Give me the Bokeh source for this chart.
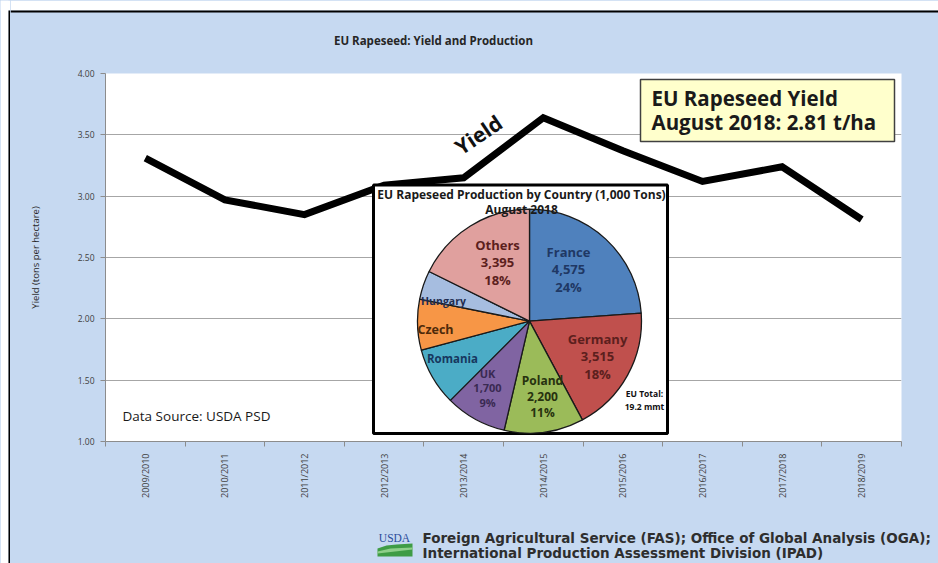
import math
from bokeh.plotting import figure
from bokeh.layouts import row, column
from bokeh.models import Range1d, FixedTicker, Label, NumeralTickFormatter
from bokeh.embed import file_html
from bokeh.resources import INLINE

# ---------------- data ----------------
seasons = ["2009/2010", "2010/2011", "2011/2012", "2012/2013", "2013/2014",
           "2014/2015", "2015/2016", "2016/2017", "2017/2018", "2018/2019"]
yields = [3.31, 2.97, 2.85, 3.09, 3.15, 3.64, 3.37, 3.12, 3.24, 2.81]
y_ticks = [1.0, 1.5, 2.0, 2.5, 3.0, 3.5, 4.0]

countries = ["France", "Germany", "Poland", "UK", "Romania", "Czech", "Hungary", "Others"]
production = [4575, 3515, 2200, 1700, 1600, 1400, 800, 3395]
slice_colors = ["#4f81bd", "#c0504d", "#9bbb59", "#8064a2", "#4bacc6", "#f79646", "#a6bde0", "#e0a09e"]
label_colors = ["#1f3864", "#5c1f1d", "#27320f", "#3a2a52", "#17375e", "#4e2a0a", "#1f2d50", "#5c1f1d"]

# ---------------- layout (page coordinates) ----------------
PW, PH = 938, 563
SW = 10                 # left strip width
HH = 60                 # header height
MB = 500                # main figure bottom (page y)
FL, FR, FT, FB = 105, 901, 73, 446  # plot frame in page coords
FONT = "Open Sans"
BLUE = "#c6d9f1"


def bare(width, height, x0, x1, y0, y1):
    # page coordinates: y measured downward -> stored as negative values
    f = figure(width=width, height=height, output_backend="svg", toolbar_location=None,
               title=None, x_range=Range1d(x0, x1), y_range=Range1d(-y1, -y0),
               x_axis_location=None, y_axis_location=None, min_border=0,
               background_fill_color=BLUE, border_fill_color=BLUE)
    f.outline_line_color = None
    f.grid.visible = False
    f.frame_align = False
    return f


def add_label(f, x, y, text, size, color="#1a1a1a", bold=True, align="center", angle=0,
              font=FONT, xr="default", yr="default"):
    f.add_layout(Label(x=x, y=-y, x_range_name=xr, y_range_name=yr,
                       text=text, text_font=font, text_font_size=f"{size}px",
                       text_font_style="bold" if bold else "normal",
                       text_color=color, text_align=align, text_baseline="middle",
                       angle=angle, angle_units="deg"))


# ---- left strip (white margin + black frame line)
strip = bare(SW, PH, 0, SW, 0, PH)
strip.quad(left=0, right=8, top=0, bottom=-PH, fill_color="white", line_color=None)
strip.quad(left=0, right=SW, top=0, bottom=-10, fill_color="white", line_color=None)
strip.quad(left=8, right=SW, top=-10, bottom=-PH, fill_color="black", line_color=None)

# ---- header
header = bare(PW - SW, HH, SW, PW, 0, HH)
header.quad(left=SW, right=PW, top=0, bottom=-10, fill_color="white", line_color=None)
header.quad(left=SW, right=PW, top=-10, bottom=-12, fill_color="black", line_color=None)
add_label(header, 433, 40, "EU Rapeseed: Yield and Production", 11.5, "#262626")

# ---- main chart
MW, MH = PW - SW, MB - HH
p = figure(width=MW, height=MH, output_backend="svg", toolbar_location=None, title=None,
           x_range=Range1d(-0.5, len(seasons) - 0.5), y_range=Range1d(1.0, 4.0),
           min_border_left=FL - SW, min_border_right=PW - FR,
           min_border_top=FT - HH, min_border_bottom=MB - FB,
           background_fill_color="white", border_fill_color=BLUE)
p.outline_line_color = None
p.extra_x_ranges = {"px": Range1d(FL, FR)}
p.extra_y_ranges = {"px": Range1d(-FB, -FT)}

xt = FixedTicker(ticks=list(range(len(seasons))),
                 minor_ticks=[i - 0.5 for i in range(len(seasons) + 1)])
p.xaxis.ticker = xt
p.xaxis.major_label_overrides = {i: s for i, s in enumerate(seasons)}
p.xaxis.major_label_orientation = math.pi / 2
p.xaxis.major_tick_line_color = None
p.xaxis.minor_tick_out = 5
p.xaxis.minor_tick_in = 0
p.xaxis.minor_tick_line_color = "#8c8c8c"
p.xaxis.axis_line_color = "#8c8c8c"
p.xaxis.major_label_standoff = 6
p.xaxis.major_label_text_font = FONT
p.xaxis.major_label_text_font_size = "9px"
p.xaxis.major_label_text_color = "#404040"

p.yaxis.ticker = FixedTicker(ticks=y_ticks)
p.yaxis.formatter = NumeralTickFormatter(format="0.00")
p.yaxis.minor_tick_line_color = None
p.yaxis.major_tick_out = 5
p.yaxis.major_tick_in = 0
p.yaxis.major_tick_line_color = "#8c8c8c"
p.yaxis.axis_line_color = "#8c8c8c"
p.yaxis.major_label_standoff = 6
p.yaxis.major_label_text_font = FONT
p.yaxis.major_label_text_font_size = "8.5px"
p.yaxis.major_label_text_color = "#404040"
p.yaxis.axis_label = "Yield (tons per hectare)"
p.yaxis.axis_label_text_font = FONT
p.yaxis.axis_label_text_font_size = "9.5px"
p.yaxis.axis_label_text_font_style = "normal"
p.yaxis.axis_label_text_color = "#262626"
p.yaxis.axis_label_standoff = 33

p.xgrid.grid_line_color = None
p.ygrid.grid_line_color = "#a6a6a6"
p.ygrid.grid_line_width = 1

# yield line
p.line(x=list(range(len(seasons))), y=yields, line_width=7, line_color="black",
       line_join="miter")

# pie inset box
p.quad(left=373, right=667, top=-186, bottom=-438, x_range_name="px", y_range_name="px",
       fill_color="white", line_color="black", line_width=3)

# pie wedges (clockwise from 12 o'clock)
total = sum(production)
cx, cy, r = 529, -324, 112
cum = 0.0
for name, v, c in zip(countries, production, slice_colors):
    a_end = math.pi / 2 - 2 * math.pi * cum / total
    cum += v
    a_start = math.pi / 2 - 2 * math.pi * cum / total
    p.wedge(x=cx, y=cy, radius=r, start_angle=a_start, end_angle=a_end,
            x_range_name="px", y_range_name="px",
            fill_color=c, line_color="#1a1a1a", line_width=1.3)

# yellow info box
p.quad(left=640, right=894, top=-79, bottom=-142, x_range_name="px", y_range_name="px",
       fill_color="#ffffcc", line_color="#404040", line_width=1.5)


def lab(x, y, text, size, color="#1a1a1a", bold=True, align="center", angle=0, font=FONT):
    add_label(p, x, y, text, size, color, bold, align, angle, font, "px", "px")


lab(651, 98, "EU Rapeseed Yield", 20.5, "#1a1a1a", align="left")
lab(651, 122, "August 2018: 2.81 t/ha", 20.5, "#1a1a1a", align="left")
lab(478, 135, "Yield", 21, "#111111", angle=34)
lab(122, 420, "Data Source:  USDA PSD", 13.5, "#1a1a1a", bold=False, align="left")

lab(521, 196, "EU Rapeseed Production by Country (1,000 Tons)", 12, "#1a1a1a")
lab(521, 211, "August 2018", 12, "#1a1a1a")
lab(644, 397, "EU Total:", 8.5, "#111111")
lab(644, 411, "19.2 mmt", 8.5, "#111111")

idx = {n: i for i, n in enumerate(countries)}


def pct(n):
    return f"{round(100 * production[idx[n]] / total)}%"


def val(n):
    return f"{production[idx[n]]:,}"


big = [("France", 568, 254, 13), ("Others", 497, 247, 13),
       ("Germany", 597, 342, 13), ("Poland", 542, 384, 12), ("UK", 487, 377, 11)]
for n, x, y, s in big:
    col = label_colors[idx[n]]
    step = s * 1.35
    lab(x, y, n, s, col)
    lab(x, y + step, val(n), s, col)
    lab(x, y + 2 * step, pct(n), s, col)

lab(443, 304, "Hungary", 10.5, label_colors[idx["Hungary"]])
lab(435, 332, "Czech", 12.5, label_colors[idx["Czech"]])
lab(452, 362, "Romania", 11.5, label_colors[idx["Romania"]])

# ---- footer
footer = bare(PW - SW, PH - MB, SW, PW, MB, PH)
footer.patch(x=[377, 386, 396, 412, 412, 377], y=[-548, -545, -544, -543, -556, -556],
             fill_color="#3f9c45", line_color=None)
footer.patch(x=[377, 390, 412, 412, 377], y=[-551, -548, -547, -549, -553],
             fill_color="#8fcf8a", line_color=None)
add_label(footer, 394, 537, "USDA", 11.5, "#2b4c9b", bold=False, font="Liberation Serif")
add_label(footer, 422, 537, "Foreign Agricultural Service (FAS); Office of Global Analysis (OGA);",
          13.5, "#2e2e2e", align="left", font="DejaVu Sans")
add_label(footer, 422, 552, "International Production Assessment Division (IPAD)",
          13.5, "#2e2e2e", align="left", font="DejaVu Sans")

col = column(header, p, footer, spacing=0, styles={"background-color": BLUE})
layout = row(strip, col, spacing=0, styles={"background-color": BLUE})
open("out.html", "w").write(file_html(layout, INLINE))
